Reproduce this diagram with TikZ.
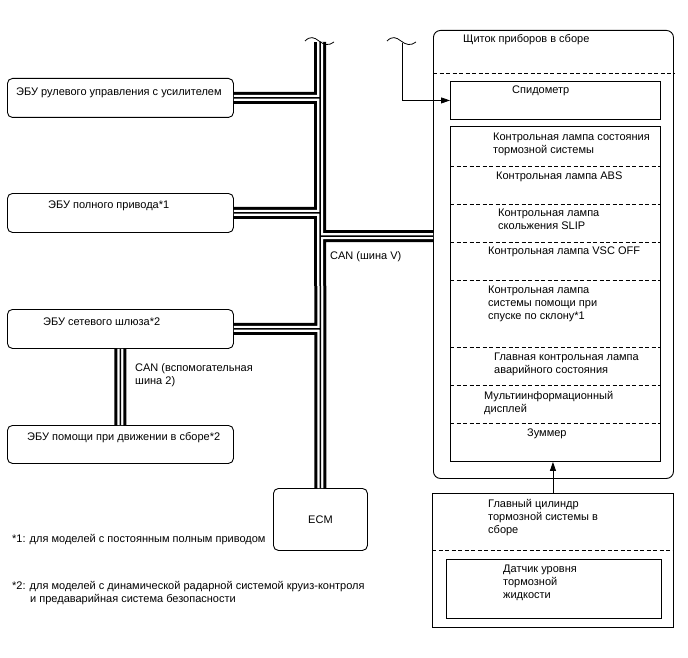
\documentclass[tikz,border=0pt]{standalone}
\usepackage{fontspec}
\setmainfont{Liberation Sans}
\usetikzlibrary{positioning,arrows.meta}

\begin{document}
\begin{tikzpicture}[
    x=1pt, y=-1pt,
    font=\fontsize{11}{13}\selectfont,
    ecu/.style={draw, line width=0.9pt, rounded corners=5pt, anchor=north west, inner sep=0pt},
    plain/.style={draw, line width=0.9pt, anchor=north west, inner sep=0pt},
    lbl/.style={inner sep=0pt, align=left, anchor=north west},
    sep/.style={line width=0.9pt, dash pattern=on 4pt off 2.5pt},
    sig/.style={line width=0.8pt, -{Triangle[length=9pt,width=6pt]}}
  ]
  \useasboundingbox (0,0) rectangle (688,658);

  \node[ecu, minimum width=226pt, minimum height=39pt] (steer) at (7,78) {};
  \node[lbl, below right=10pt and 9pt of steer.north west] (steertxt)
  {ЭБУ рулевого управления с усилителем};

  \node[ecu, minimum width=226pt, minimum height=39pt] (awd) at (7,193) {};
  \node[lbl, below right=8pt and 41pt of awd.north west] (awdtxt)
  {ЭБУ полного привода*1};

  \node[ecu, minimum width=226pt, minimum height=39pt] (gw) at (7,309) {};
  \node[lbl, below right=9pt and 36pt of gw.north west] (gwtxt)
  {ЭБУ сетевого шлюза*2};

  \node[ecu, minimum width=226pt, minimum height=38pt] (assist) at (7,425) {};
  \node[lbl, below right=7pt and 20pt of assist.north west] (assisttxt)
  {ЭБУ помощи при движении в сборе*2};

  \node[ecu, minimum width=94pt, minimum height=62pt] (ecm) at (273,488) {ECM};

  \node[ecu, rounded corners=7pt, minimum width=240pt, minimum height=448pt] (cluster) at (433,30) {};
  \node[lbl, below right=4pt and 30pt of cluster.north west] (clustertxt)
  {Щиток приборов в сборе};
  \draw[sep] (cluster.west |- 0,73) -- (cluster.east |- 0,73);

  \node[plain, minimum width=210pt, minimum height=38pt] (speedo) at (450,81) {};
  \node[lbl, below right=5pt and 62pt of speedo.north west] (speedotxt) {Спидометр};

  \node[plain, minimum width=210pt, minimum height=335pt] (lamps) at (450,126) {};
  \foreach \y in {166,204,242,280,347,385,423}
    \draw[sep] (lamps.west |- 0,\y) -- (lamps.east |- 0,\y);
  \node[lbl] (brk) at (493,133) {Контрольная лампа состояния\\тормозной системы};
  \node[lbl] (abs) at (496,172) {Контрольная лампа ABS};
  \node[lbl] (slip) at (498,209) {Контрольная лампа\\скольжения SLIP};
  \node[lbl] (vsc) at (488,247) {Контрольная лампа VSC OFF};
  \node[lbl] (hill) at (488,286) {Контрольная лампа\\системы помощи при\\спуске по склону*1};
  \node[lbl] (mil) at (494,353) {Главная контрольная лампа\\аварийного состояния};
  \node[lbl] (mid) at (484,391) {Мультиинформационный\\дисплей};
  \node[lbl] (buzz) at (527,429) {Зуммер};

  \node[plain, minimum width=241pt, minimum height=134pt] (master) at (432,493) {};
  \node[lbl, below right=6pt and 56pt of master.north west] (mastertxt)
  {Главный цилиндр\\тормозной системы в\\сборе};
  \draw[sep] (master.west |- 0,550) -- (master.east |- 0,550);
  \node[plain, minimum width=215pt, minimum height=59pt] (level) at (446,559) {};
  \node[lbl, below right=6pt and 57pt of level.north west] (leveltxt)
  {Датчик уровня\\тормозной\\жидкости};

  \coordinate (bustop) at (320,42);
  \coordinate (canv) at (433,236);
  \foreach \w/\c in {12pt/black,6pt/white,1.5pt/black}
    \draw[line width=\w, draw=\c] (bustop) -- (ecm.north)
      (steer.east) -- (steer.east -| ecm.north)
      (awd.east) -- (awd.east -| ecm.north)
      (gw.east) -- (gw.east -| ecm.north)
      (ecm.north |- canv) -- (canv)
      (gw.south) -- (assist.north);

  \draw[line width=0.8pt] (305,41) .. controls (310,36) and (314,37) .. (319,41)
    .. controls (324,45) and (329,46) .. (334,42);
  \draw[line width=0.8pt] (387,41) .. controls (392,36) and (396,37) .. (401,41)
    .. controls (406,45) and (411,46) .. (416,42);

  \node[lbl] (canvtxt) at (330,251) {CAN (шина V)};
  \node[lbl] (canauxtxt) at (135,363) {CAN (вспомогательная\\шина 2)};

  \coordinate (spdin) at (402,43);
  \draw[sig] (spdin) |- (speedo.west);
  \draw[sig] (master.north) -- (master.north |- lamps.south);

  \node[lbl, anchor=west] (note1) at (12,540) {*1: для моделей с постоянным полным приводом};
  \node[lbl] (note2) at (12,581)
  {*2: для моделей с динамической радарной системой круиз-контроля\\\hspace*{18pt}и предаварийная система безопасности};
\end{tikzpicture}
\end{document}
